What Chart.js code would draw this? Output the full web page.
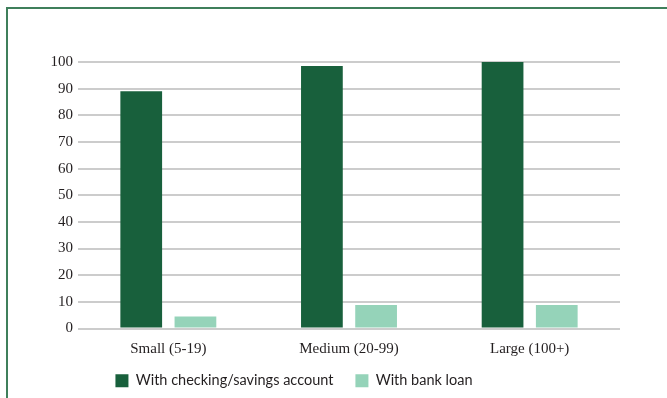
<!DOCTYPE html>
<html>
<head>
<meta charset="utf-8">
<script src="https://cdn.jsdelivr.net/npm/chart.js@4/dist/chart.umd.min.js"></script>
<style>
  html, body { margin: 0; padding: 0; background: #fff; }
  #frame {
    position: absolute; left: 6px; top: 7px; width: 661px; height: 391px;
    border-top: 2px solid #3f7f5b; border-left: 2px solid #3f7f5b;
    box-sizing: border-box;
  }
  #myChart { position: absolute; left: 0; top: 0; }
</style>
</head>
<body>
<div id="frame"></div>
<canvas id="myChart" width="667" height="398"></canvas>
<script>
// firm size categories
const categories = ['Small (5-19)', 'Medium (20-99)', 'Large (100+)'];

// percent of firms
const checkingAccount = [89, 98.5, 100];
const bankLoan = [4.5, 8.8, 8.8];

const seriesNames = ['With checking/savings account', 'With bank loan'];
const yTicks = [0, 10, 20, 30, 40, 50, 60, 70, 80, 90, 100];

const DARK = '#18603c';
const LIGHT = '#95d3b9';

// nudge the legend so it sits where the original one is
const shiftLegend = {
  id: 'shiftLegend',
  afterLayout(chart) {
    const dx = -16, dy = -19;
    chart.legend.left += dx;
    chart.legend.right += dx;
    chart.legend.top += dy;
    chart.legend.bottom += dy;
  }
};

const ctx = document.getElementById('myChart');

new Chart(ctx, {
  type: 'bar',
  data: {
    labels: categories,
    datasets: [{
      label: seriesNames[0],
      data: checkingAccount,
      backgroundColor: DARK,
      barPercentage: 0.77,
      categoryPercentage: 0.6,
    }, {
      label: seriesNames[1],
      data: bankLoan,
      backgroundColor: LIGHT,
      barPercentage: 0.77,
      categoryPercentage: 0.6,
    }]
  },
  plugins: [shiftLegend],
  options: {
    responsive: false,
    animation: false,
    layout: {
      padding: { top: 62, left: 0, right: 47, bottom: -19 }
    },
    plugins: {
      tooltip: { enabled: false },
      legend: {
        position: 'bottom',
        labels: {
          boxWidth: 13,
          boxHeight: 13,
          padding: 22,
          color: '#231f20',
          font: { family: 'Lato', size: 14.5 }
        }
      }
    },
    scales: {
      x: {
        grid: { display: false, drawTicks: false },
        border: { display: false },
        ticks: {
          padding: 12,
          color: '#231f20',
          font: { family: 'Liberation Serif', size: 15 }
        }
      },
      y: {
        min: 0,
        max: 100,
        afterBuildTicks: (scale) => {
          scale.ticks = yTicks.map(v => ({ value: v }));
        },
        afterFit: (scale) => {
          scale.width = 78;
        },
        grid: { color: '#cccccc', lineWidth: 2, drawTicks: false },
        border: { display: false },
        ticks: {
          padding: 5,
          color: '#231f20',
          font: { family: 'Liberation Serif', size: 15 }
        }
      }
    }
  }
});
</script>
</body>
</html>
